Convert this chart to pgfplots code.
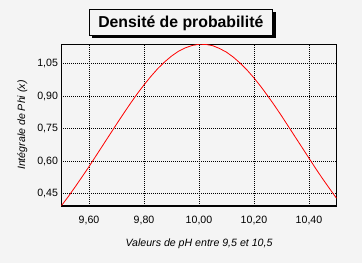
\documentclass[border=0pt]{standalone}
\usepackage{pgfplots}
\pgfplotsset{compat=1.18}
\usepackage{fontspec}
\setmainfont{Liberation Sans}
\definecolor{bg}{HTML}{F4F4F4}
\pgfplotstableread{
x y
9.500 0.394
9.525 0.436
9.550 0.481
9.575 0.527
9.600 0.574
9.625 0.623
9.650 0.672
9.675 0.721
9.700 0.770
9.725 0.818
9.750 0.865
9.775 0.910
9.800 0.952
9.825 0.991
9.850 1.027
9.875 1.058
9.900 1.085
9.925 1.107
9.950 1.123
9.975 1.134
10.000 1.1395
10.025 1.139
10.050 1.133
10.075 1.120
10.100 1.103
10.125 1.080
10.150 1.052
10.175 1.020
10.200 0.984
10.225 0.944
10.250 0.901
10.275 0.856
10.300 0.809
10.325 0.760
10.350 0.711
10.375 0.662
10.400 0.613
10.425 0.564
10.450 0.517
10.475 0.472
10.500 0.428
}\curve
\begin{document}
\begin{tikzpicture}[x=1bp,y=1bp]
\fill[bg] (-61.5,-57) rectangle (300.5,206);
\begin{axis}[
  at={(0,0)}, anchor=south west,
  scale only axis, width=275bp, height=161.7bp,
  xmin=9.5, xmax=10.5, ymin=0.392, ymax=1.1395,
  xtick={9.6,9.8,10.0,10.2,10.4},
  ytick={0.45,0.60,0.75,0.90,1.05},
  grid=major,
  grid style={black, line width=0.8bp, dash pattern=on 1bp off 1bp},
  major tick length=0,
  axis line style={black, line width=1.2bp},
  axis background/.style={fill=bg},
  /pgf/number format/.cd, fixed, fixed zerofill, precision=2, use comma, assume math mode=true,
  /pgfplots/.cd,
  tick label style={font=\fontsize{10.6bp}{12bp}\selectfont, text=black},
  xticklabel style={yshift=-7bp},
  xlabel={Valeurs de pH entre 9,5 et 10,5},
  ylabel={Intégrale de Phi (x)},
  xlabel style={at={(axis description cs:0.5,-0.2474)}, anchor=base, font=\fontsize{10.6bp}{12bp}\selectfont\itshape},
  ylabel style={at={(axis description cs:-0.1327,0.5)}, anchor=base, font=\fontsize{10.6bp}{12bp}\selectfont\itshape},
]
\addplot[red, line width=0.8bp, no markers] table[x=x, y=y] {\curve};
\end{axis}
\fill[black] (30.8,168) rectangle (214.2,193.7);
\draw[fill=bg, line width=1bp] (27.8,171) rectangle (211.2,196.7);
\node[anchor=base, font=\fontsize{15.8bp}{18bp}\selectfont\bfseries, inner sep=0] at (119.3,178.7) {Densité de probabilité};
\end{tikzpicture}
\end{document}
